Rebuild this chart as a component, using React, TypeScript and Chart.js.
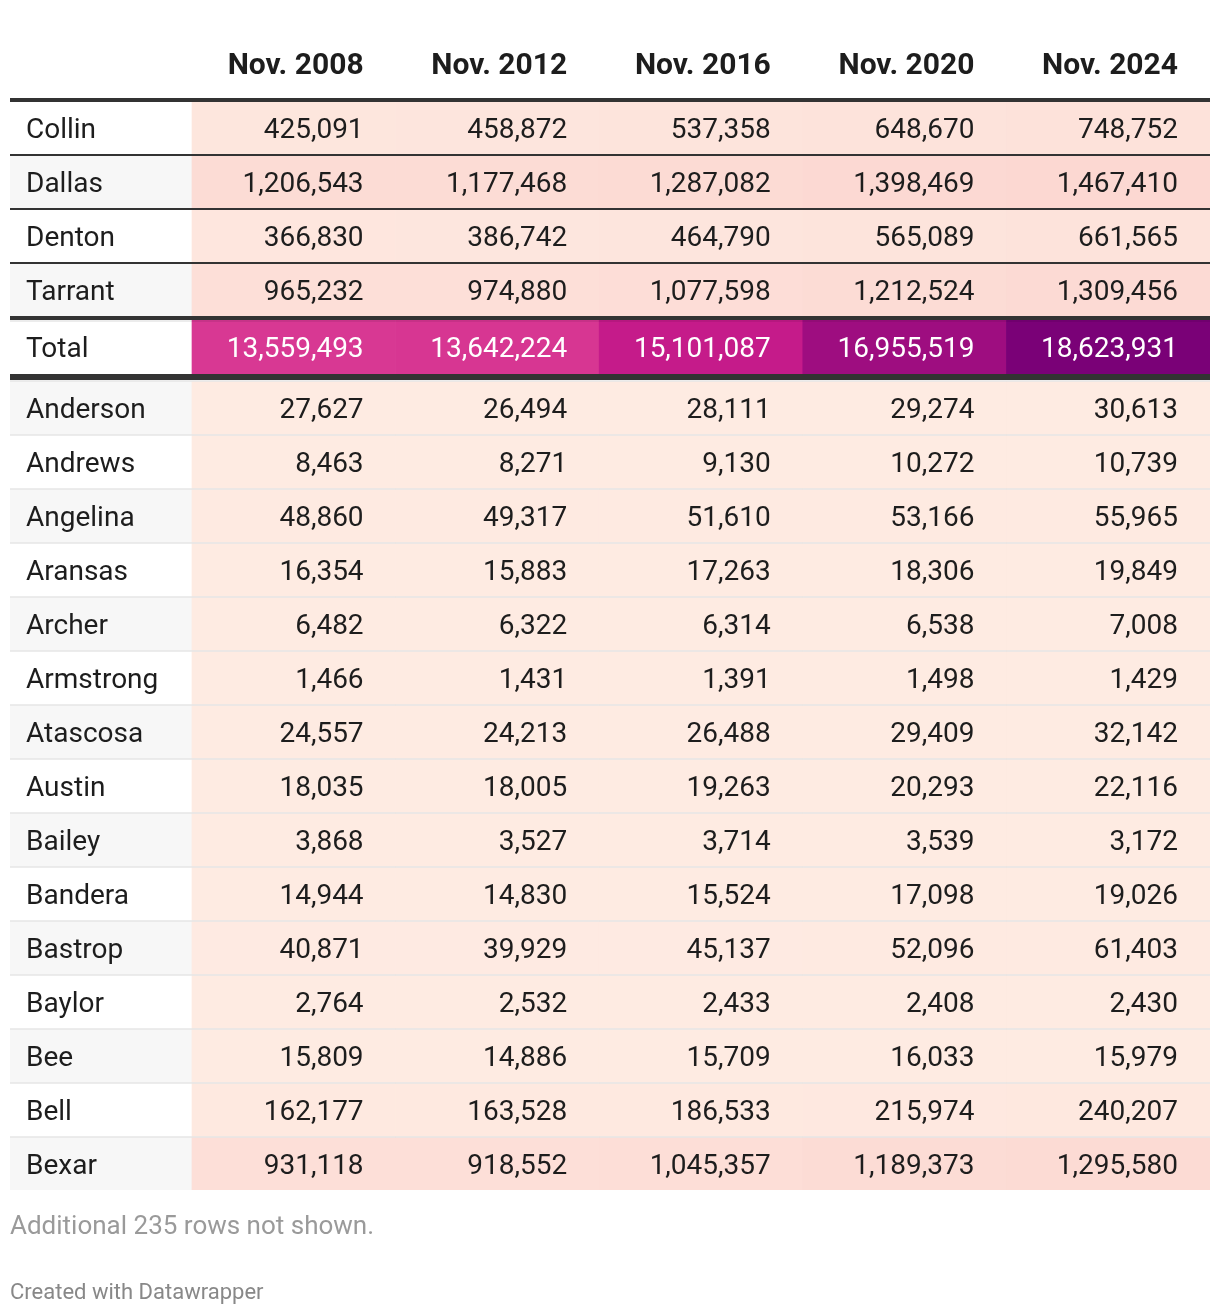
import React, { useEffect, useRef } from "react";
import { Chart, registerables } from "chart.js";

Chart.register(...registerables);

// ---------- data ----------
const columns = ["Nov. 2008", "Nov. 2012", "Nov. 2016", "Nov. 2020", "Nov. 2024"];

const counties = [
  "Collin", "Dallas", "Denton", "Tarrant", "Total",
  "Anderson", "Andrews", "Angelina", "Aransas", "Archer",
  "Armstrong", "Atascosa", "Austin", "Bailey", "Bandera",
  "Bastrop", "Baylor", "Bee", "Bell", "Bexar",
];

const nov2008 = [425091, 1206543, 366830, 965232, 13559493, 27627, 8463, 48860, 16354, 6482, 1466, 24557, 18035, 3868, 14944, 40871, 2764, 15809, 162177, 931118];
const nov2012 = [458872, 1177468, 386742, 974880, 13642224, 26494, 8271, 49317, 15883, 6322, 1431, 24213, 18005, 3527, 14830, 39929, 2532, 14886, 163528, 918552];
const nov2016 = [537358, 1287082, 464790, 1077598, 15101087, 28111, 9130, 51610, 17263, 6314, 1391, 26488, 19263, 3714, 15524, 45137, 2433, 15709, 186533, 1045357];
const nov2020 = [648670, 1398469, 565089, 1212524, 16955519, 29274, 10272, 53166, 18306, 6538, 1498, 29409, 20293, 3539, 17098, 52096, 2408, 16033, 215974, 1189373];
const nov2024 = [748752, 1467410, 661565, 1309456, 18623931, 30613, 10739, 55965, 19849, 7008, 1429, 32142, 22116, 3172, 19026, 61403, 2430, 15979, 240207, 1295580];

const footnote = "Additional 235 rows not shown.";
const credit = "Created with Datawrapper";

// ---------- styling / layout ----------
const seriesByColumn = [nov2008, nov2012, nov2016, nov2020, nov2024];
const TOTAL_INDEX = counties.indexOf("Total");
const PITCH = 54; // px per row unit
const ROW_H = 52;
const TOTAL_H = 54;
const LABEL_W = 182 / 203.6; // label column width in data-column units
const FONT = "Roboto, 'Noto Sans', sans-serif";
const DARK = "#333333";
const LIGHT = "rgba(0,0,0,0.075)";
const TEXT = "#1d1d1d";

function rowTopPx(i: number): number {
  if (i < TOTAL_INDEX) return i * PITCH;
  if (i === TOTAL_INDEX) return TOTAL_INDEX * PITCH + 2;
  return (TOTAL_INDEX + 1) * PITCH + 10 + (i - TOTAL_INDEX - 1) * PITCH;
}
function rowHeightPx(i: number): number {
  return i === TOTAL_INDEX ? TOTAL_H : ROW_H;
}
const TABLE_H_PX = rowTopPx(counties.length - 1) + ROW_H;

const maxValue = Math.max(...seriesByColumn.flat());
const colorStops: [number, string][] = [
  [0, "#feebe2"],
  [1500000, "#fcd8d2"],
  [11000000, "#f768a1"],
  [15100000, "#c51b8a"],
  [maxValue, "#7a0177"],
];

function hexToRgb(h: string): number[] {
  const n = parseInt(h.slice(1), 16);
  return [(n >> 16) & 255, (n >> 8) & 255, n & 255];
}
function toHex(m: number[]): string {
  return "#" + m.map((v) => v.toString(16).padStart(2, "0")).join("");
}
function colorFor(v: number): string {
  for (let k = 1; k < colorStops.length; k++) {
    const [v1, c1] = colorStops[k];
    const [v0, c0] = colorStops[k - 1];
    if (v <= v1 || k === colorStops.length - 1) {
      const t = Math.max(0, Math.min(1, (v - v0) / (v1 - v0)));
      const a = hexToRgb(c0), b = hexToRgb(c1);
      return toHex(a.map((x, j) => Math.round(x + (b[j] - x) * t)));
    }
  }
  return colorStops[0][1];
}
function isDark(color: string): boolean {
  const [r, g, b] = hexToRgb(color);
  return 0.299 * r + 0.587 * g + 0.114 * b < 150;
}

const datasets = counties.map((name, i) => {
  const top = rowTopPx(i);
  const h = rowHeightPx(i);
  const yc = (top + h / 2) / PITCH;
  const data = [
    { x: [0, LABEL_W], y: yc },
    ...columns.map((_, c) => ({ x: [LABEL_W + c, LABEL_W + c + 1], y: yc })),
  ];
  const bg = [
    i % 2 === 1 ? "#f7f7f7" : "#ffffff",
    ...seriesByColumn.map((s) => colorFor(s[i])),
  ];
  return {
    label: name,
    data,
    backgroundColor: bg,
    barThickness: h,
    grouped: false,
    borderWidth: 0,
    borderSkipped: false,
  };
});

const tablePlugin = {
  id: "tableText",
  afterDatasetsDraw(chart: any) {
    const ctx: CanvasRenderingContext2D = chart.ctx;
    const xs = chart.scales.x;
    const ys = chart.scales.y;
    const area = chart.chartArea;
    const pxY = (px: number) => ys.getPixelForValue(px / PITCH);
    const hline = (from: number, to: number, color: string) => {
      const y0 = pxY(from), y1 = pxY(to);
      ctx.fillStyle = color;
      ctx.fillRect(area.left, y0, area.right - area.left, y1 - y0);
    };
    ctx.save();
    // rules
    hline(-4, 0, DARK);
    for (let i = 0; i < counties.length - 1; i++) {
      const bottom = rowTopPx(i) + rowHeightPx(i);
      const nextTop = rowTopPx(i + 1);
      if (i < TOTAL_INDEX - 1) hline(bottom, nextTop, DARK);
      else if (i === TOTAL_INDEX - 1) {
        hline(bottom, nextTop, DARK);
        hline(nextTop, nextTop + 2, LIGHT);
      } else if (i === TOTAL_INDEX) {
        hline(bottom, nextTop - 2, DARK);
        hline(nextTop - 2, nextTop, LIGHT);
      } else hline(bottom, nextTop, LIGHT);
    }

    // header
    ctx.font = `bold 30px ${FONT}`;
    ctx.fillStyle = TEXT;
    ctx.textAlign = "right";
    ctx.textBaseline = "alphabetic";
    columns.forEach((col, c) => {
      const right = xs.getPixelForValue(LABEL_W + c + 1);
      ctx.fillText(col, right - 32, pxY(-27.7));
    });

    // cells
    ctx.font = `28px ${FONT}`;
    counties.forEach((name, i) => {
      const meta = chart.getDatasetMeta(i);
      meta.data.forEach((el: any, j: number) => {
        const p = el.getProps(["x", "y", "base"], true);
        const left = Math.min(p.x, p.base);
        const right = Math.max(p.x, p.base);
        const by = p.y + 10;
        const bg = (chart.data.datasets[i].backgroundColor as string[])[j];
        ctx.fillStyle = isDark(bg) ? "#ffffff" : TEXT;
        if (j === 0) {
          ctx.textAlign = "left";
          ctx.fillText(name, left + 16, by);
        } else {
          ctx.textAlign = "right";
          ctx.fillText(seriesByColumn[j - 1][i].toLocaleString("en-US"), right - 32, by);
        }
      });
    });

    // footer
    ctx.textAlign = "left";
    ctx.font = `26px ${FONT}`;
    ctx.fillStyle = "#9a9a9a";
    ctx.fillText(footnote, area.left, pxY(TABLE_H_PX + 44));
    ctx.font = `22px ${FONT}`;
    ctx.fillStyle = "#888888";
    ctx.fillText(credit, area.left, pxY(TABLE_H_PX + 109));
    ctx.restore();
  },
};

export default function App() {
  const ref = useRef<HTMLCanvasElement>(null);
  useEffect(() => {
    if (!ref.current) return;
    const chart = new Chart(ref.current, {
      type: "bar",
      data: { labels: columns.map(() => ""), datasets: datasets as any },
      options: {
        responsive: false,
        animation: false,
        devicePixelRatio: 1,
        indexAxis: "y",
        events: [],
        layout: { padding: { left: 10, right: 10, top: 102, bottom: 1316 - 102 - TABLE_H_PX } },
        plugins: {
          legend: { display: false },
          tooltip: { enabled: false },
          title: { display: false },
        },
        scales: {
          x: { type: "linear", min: 0, max: LABEL_W + columns.length, display: false, offset: false, grid: { offset: false } },
          y: { type: "linear", min: 0, max: TABLE_H_PX / PITCH, reverse: true, display: false, offset: false, grid: { offset: false } },
        },
      } as any,
      plugins: [tablePlugin],
    });
    const fonts = (document as any).fonts;
    if (fonts && fonts.load) {
      Promise.all([fonts.load(`28px Roboto`), fonts.load(`bold 30px Roboto`)])
        .then(() => chart.update())
        .catch(() => {});
    }
    return () => chart.destroy();
  }, []);
  return (
    <div style={{ position: "absolute", left: 0, top: 0, width: 1220, height: 1316, background: "#ffffff" }}>
      <canvas ref={ref} width={1220} height={1316} style={{ display: "block", width: 1220, height: 1316 }} />
    </div>
  );
}
